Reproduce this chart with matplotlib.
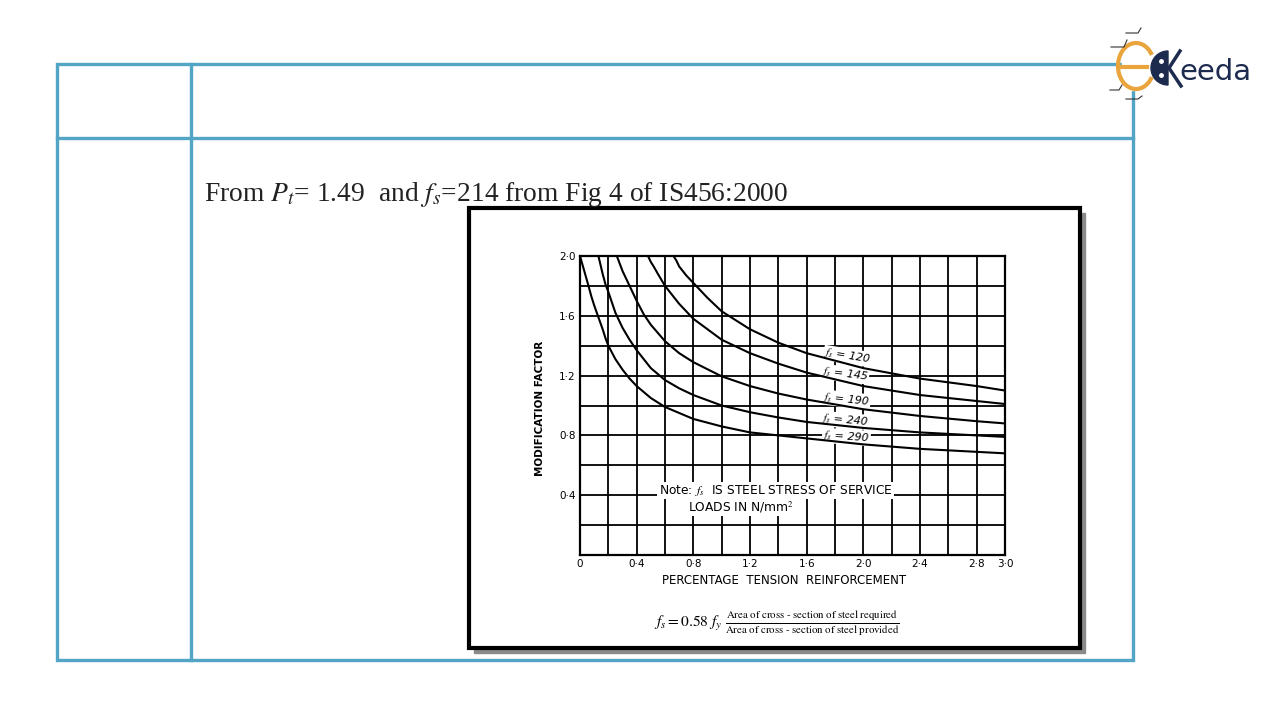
import numpy as np
import matplotlib
matplotlib.use("Agg")
import matplotlib.pyplot as plt
from matplotlib.patches import Rectangle, Arc, Wedge

plt.rcParams['mathtext.fontset'] = 'stix'

# Fig 4 of IS456:2000
# x = percentage tension reinforcement, y = modification factor
pt_120 = [0.66, 0.68, 0.70, 0.75, 0.80, 0.90, 1.0, 1.1, 1.2, 1.4, 1.6, 2.0, 2.4, 2.8, 3.0]
mf_120 = [2.00, 1.97, 1.93, 1.87, 1.82, 1.72, 1.63, 1.57, 1.51, 1.42, 1.35, 1.25, 1.18, 1.13, 1.10]

pt_145 = [0.48, 0.50, 0.52, 0.55, 0.60, 0.65, 0.70, 0.80, 0.90, 1.0, 1.2, 1.4, 1.6, 2.0, 2.4, 2.8, 3.0]
mf_145 = [2.00, 1.96, 1.93, 1.88, 1.80, 1.74, 1.68, 1.58, 1.51, 1.44, 1.35, 1.28, 1.22, 1.13, 1.07, 1.03, 1.01]

pt_190 = [0.26, 0.28, 0.30, 0.35, 0.40, 0.45, 0.50, 0.60, 0.70, 0.80, 1.0, 1.2, 1.4, 1.6, 2.0, 2.4, 2.8, 3.0]
mf_190 = [2.00, 1.95, 1.90, 1.80, 1.70, 1.61, 1.54, 1.43, 1.35, 1.29, 1.195, 1.13, 1.08, 1.04, 0.975, 0.93, 0.895, 0.88]

pt_240 = [0.13, 0.16, 0.18, 0.20, 0.25, 0.30, 0.35, 0.40, 0.50, 0.60, 0.70, 0.80, 1.0, 1.2, 1.4, 1.6, 2.0, 2.4, 2.8, 3.0]
mf_240 = [2.00, 1.88, 1.81, 1.76, 1.62, 1.52, 1.44, 1.37, 1.25, 1.17, 1.115, 1.07, 1.00, 0.955, 0.92, 0.89, 0.85, 0.82, 0.80, 0.79]

pt_290 = [0.0, 0.03, 0.06, 0.08, 0.10, 0.13, 0.16, 0.18, 0.20, 0.25, 0.30, 0.35, 0.40, 0.50, 0.60, 0.70, 0.80,
          0.90, 1.0, 1.2, 1.4, 1.6, 2.0, 2.4, 2.8, 3.0]
mf_290 = [2.00, 1.90, 1.80, 1.73, 1.67, 1.59, 1.51, 1.45, 1.40, 1.31, 1.24, 1.18, 1.13, 1.05, 0.99, 0.95, 0.91,
          0.885, 0.86, 0.82, 0.80, 0.78, 0.74, 0.71, 0.69, 0.68]

curve_labels = ["120", "145", "190", "240", "290"]
label_pos = [(1.89, 1.33), (1.87, 1.21), (1.88, 1.04), (1.87, 0.90), (1.88, 0.79)]
label_rot = [-9, -7, -6, -5, -4]

x_ticks = np.arange(0, 3.01, 0.2)
x_ticklabels = ["0", "", "0·4", "", "0·8", "", "1·2", "", "1·6", "", "2·0", "", "2·4", "", "2·8", "3·0"]
y_ticks = np.arange(0, 2.01, 0.2)
y_ticklabels = ["", "", "0·4", "", "0·8", "", "1·2", "", "1·6", "", "2·0"]

TEAL = "#52a5c5"
NAVY = "#1d2b4f"
ORANGE = "#e9a53b"

fig = plt.figure(figsize=(12.8, 7.2), dpi=100)

# slide layer in pixel coordinates
bg = fig.add_axes([0, 0, 1, 1])
bg.set_xlim(0, 1280)
bg.set_ylim(720, 0)
bg.axis("off")

# table frame
bg.add_patch(Rectangle((57, 64), 1076, 596, fill=False, edgecolor=TEAL, lw=2.4))
bg.plot([57, 1133], [138, 138], color=TEAL, lw=2.4)
bg.plot([191, 191], [64, 660], color=TEAL, lw=2.4)

bg.text(204, 201, r"From $P_t$= 1.49  and $f_s$=214 from Fig 4 of IS456:2000",
        fontfamily="Liberation Serif", fontsize=19.8, va="baseline", color="#222222")

# logo
bg.add_patch(Rectangle((1122, 44), 50, 46, color="white", zorder=1))
bg.add_patch(Arc((1136, 66), 36, 46, theta1=35, theta2=325, color=ORANGE, lw=3, zorder=2))
bg.plot([1122, 1147], [67, 67], color=ORANGE, lw=3, zorder=2)
bg.add_patch(Wedge((1168, 68), 17, 90, 270, color=NAVY, zorder=3))
bg.plot([1161, 1161], [61, 75], color="white", lw=0, marker="o", ms=2.5, zorder=4)
bg.plot([1180, 1169, 1181], [51, 68, 86], color=NAVY, lw=2.5, zorder=3)
bg.text(1179, 80, "eeda", fontfamily="DejaVu Sans", fontsize=21, color=NAVY, va="baseline")
for xs, ys in [([1111, 1124, 1127], [47, 47, 40]), ([1126, 1138, 1141], [33, 33, 28]),
               ([1110, 1119, 1122], [90, 90, 85]), ([1126, 1138, 1142], [99, 99, 96])]:
    bg.plot(xs, ys, color="#333333", lw=0.8)

# embedded figure frame with shadow
bg.add_patch(Rectangle((474, 213), 611, 440, color="#8a8a8a", zorder=1))
bg.add_patch(Rectangle((469, 208), 611, 440, facecolor="white", edgecolor="black", lw=3, zorder=2))

bg.text(777, 624,
        r"$f_s = 0.58\ f_y\ \frac{\mathrm{Area\ of\ cross\ \text{-}\ section\ of\ steel\ required}}"
        r"{\mathrm{Area\ of\ cross\ \text{-}\ section\ of\ steel\ provided}}$",
        ha="center", va="center", fontsize=11.2, zorder=3)

# chart
ax = fig.add_axes([580 / 1280, 1 - 555 / 720, 425 / 1280, 299 / 720], zorder=5)
ax.set_xlim(0, 3.0)
ax.set_ylim(0, 2.0)
ax.set_xticks(x_ticks)
ax.set_xticklabels(x_ticklabels)
ax.set_yticks(y_ticks)
ax.set_yticklabels(y_ticklabels)
ax.tick_params(length=0, labelsize=7.5, pad=3)
ax.grid(True, color="black", lw=1.3)
ax.set_axisbelow(True)
for s in ax.spines.values():
    s.set_linewidth(1.6)

curves = [(pt_120, mf_120), (pt_145, mf_145), (pt_190, mf_190), (pt_240, mf_240), (pt_290, mf_290)]
for (xs, ys) in curves:
    ax.plot(xs, ys, color="black", lw=1.5, zorder=4, solid_joinstyle="round")

for lab, (lx, ly), rot in zip(curve_labels, label_pos, label_rot):
    ax.text(lx, ly, r"$f_s$ = " + lab, ha="center", va="center", rotation=rot,
            fontsize=8, fontstyle="italic", zorder=3,
            bbox=dict(facecolor="white", edgecolor="none", pad=0.5))

ax.text(1.38, 0.43, r"Note: $f_s$  IS STEEL STRESS OF SERVICE", ha="center", va="center",
        fontsize=8.8, zorder=3, bbox=dict(facecolor="white", edgecolor="none", pad=0.8))
ax.text(1.14, 0.32, r"LOADS IN N/mm$^2$", ha="center", va="center",
        fontsize=8.8, zorder=3, bbox=dict(facecolor="white", edgecolor="none", pad=0.8))

ax.text(-0.095, 0.49, "MODIFICATION FACTOR", rotation=90, ha="center", va="center",
        fontsize=7.5, fontweight="bold", transform=ax.transAxes)
ax.text(0.48, -0.084, "PERCENTAGE  TENSION  REINFORCEMENT", ha="center", va="center",
        fontsize=8.5, transform=ax.transAxes)

fig.savefig("out.png", dpi=100)
